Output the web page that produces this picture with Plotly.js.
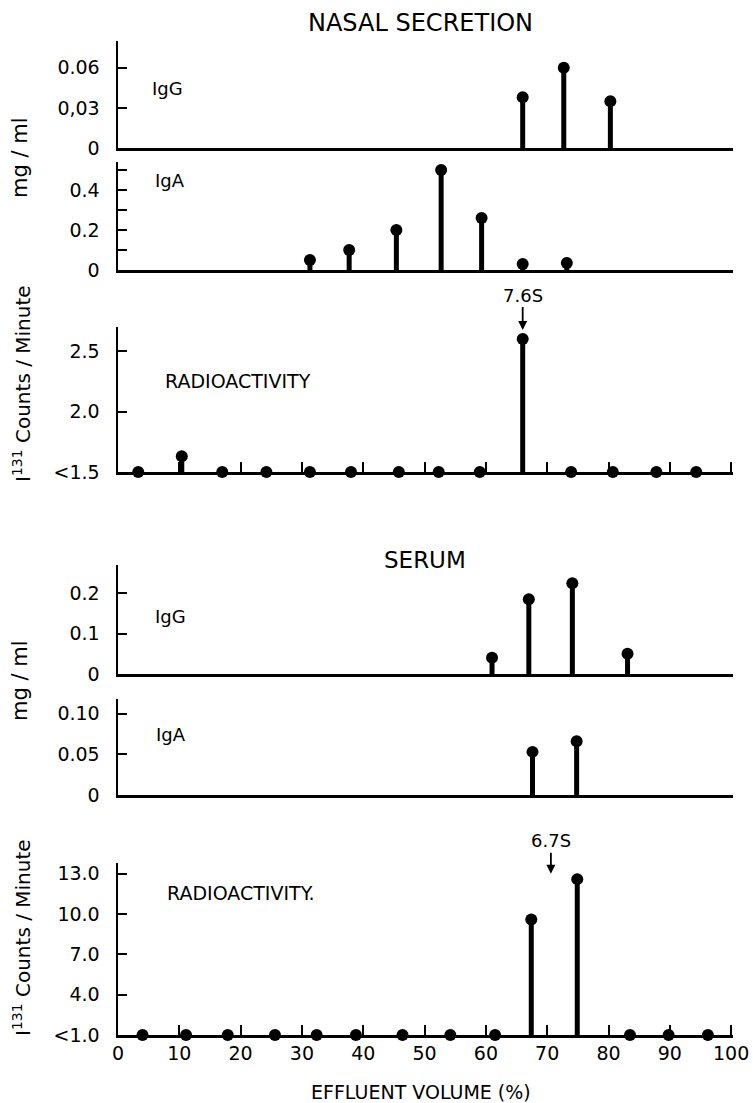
<!DOCTYPE html>
<html>
<head>
<meta charset="utf-8">
<script src="https://cdn.plot.ly/plotly-3.0.1.min.js"></script>
<style>html,body{margin:0;padding:0;background:#fff;}</style>
</head>
<body>
<div id="chart" style="width:753px;height:1103px;"></div>
<script>
// ---------- data ----------
const nasalIgGX = [66.0, 72.7, 80.3];
const nasalIgGY = [0.038, 0.060, 0.035];
const nasalIgAX = [31.3, 37.7, 45.4, 52.7, 59.3, 66.0, 73.2];
const nasalIgAY = [0.05, 0.10, 0.20, 0.50, 0.26, 0.03, 0.035];
const nasalRadX = [3.3, 10.4, 17.0, 24.2, 31.3, 38.0, 45.8, 52.3, 59.0, 66.0, 73.9, 80.7, 87.8, 94.3];
const nasalRadY = [1.5, 1.63, 1.5, 1.5, 1.5, 1.5, 1.5, 1.5, 1.5, 2.6, 1.5, 1.5, 1.5, 1.5];
const serumIgGX = [61.0, 67.0, 74.1, 83.1];
const serumIgGY = [0.04, 0.185, 0.225, 0.05];
const serumIgAX = [67.6, 74.8];
const serumIgAY = [0.053, 0.066];
const serumRadX = [4.0, 11.1, 17.9, 25.6, 32.4, 38.8, 46.4, 54.2, 61.5, 67.4, 74.9, 83.5, 89.8, 96.2];
const serumRadY = [1.0, 1.0, 1.0, 1.0, 1.0, 1.0, 1.0, 1.0, 1.0, 9.6, 12.6, 1.0, 1.0, 1.0];

const xTickVals = [0, 10, 20, 30, 40, 50, 60, 70, 80, 90, 100];
const xTickText = ['0', '10', '20', '30', '40', '50', '60', '70', '80', '90', '100'];

// ---------- layout helpers ----------
const H = 1103, W = 753, L = 118, R = 20;
const FONT = 'DejaVu Sans, Verdana, sans-serif';
function dom(top, bottom) { return [1 - bottom / H, 1 - top / H]; }
function px(p) { return (p - L) / (W - L - R); }
function py(p) { return 1 - p / H; }

function stem(xs, ys, base, xa, ya) {
  return {
    type: 'scatter', mode: 'markers', x: xs, y: ys, xaxis: xa, yaxis: ya,
    cliponaxis: false, hoverinfo: 'skip',
    marker: { color: '#000', size: 12, line: { width: 0 } },
    error_y: {
      type: 'data', symmetric: false,
      array: ys.map(() => 0), arrayminus: ys.map(v => v - base),
      thickness: 5, width: 0, color: '#000'
    }
  };
}

const traces = [
  stem(nasalIgGX, nasalIgGY, 0, 'x', 'y'),
  stem(nasalIgAX, nasalIgAY, 0, 'x2', 'y2'),
  stem(nasalRadX, nasalRadY, 1.5, 'x3', 'y3'),
  stem(serumIgGX, serumIgGY, 0, 'x4', 'y4'),
  stem(serumIgAX, serumIgAY, 0, 'x5', 'y5'),
  stem(serumRadX, serumRadY, 1.0, 'x6', 'y6')
];

function xAx(anchor, withTicks, withLabels) {
  return {
    anchor: anchor, domain: [0, 1], range: [0, 100.3],
    showline: true, linecolor: '#000', linewidth: 2.5,
    showgrid: false, zeroline: false, fixedrange: true,
    tickmode: 'array', tickvals: xTickVals, ticktext: xTickText,
    ticks: withTicks ? 'inside' : '', ticklen: 10, tickwidth: 2, tickcolor: '#000',
    showticklabels: withLabels, ticklabelstandoff: 0,
    tickfont: { family: FONT, size: 19, color: '#000' }
  };
}
function yAx(anchor, d, range, vals, text) {
  return {
    anchor: anchor, domain: d, range: range,
    showline: true, linecolor: '#000', linewidth: 2.5,
    showgrid: false, zeroline: false, fixedrange: true,
    tickmode: 'array', tickvals: vals, ticktext: text,
    ticks: 'inside', ticklen: 9, tickwidth: 2, tickcolor: '#000',
    ticklabelstandoff: 12,
    tickfont: { family: FONT, size: 19, color: '#000' }
  };
}

function label(text, xp, yp, size, extra) {
  return Object.assign({
    text: text, xref: 'paper', yref: 'paper', x: px(xp), y: py(yp),
    xanchor: 'center', yanchor: 'middle', showarrow: false,
    font: { family: FONT, size: size, color: '#000' }
  }, extra || {});
}

const annotations = [
  label('NASAL SECRETION', 420, 23, 24),
  label('IgG', 167, 89, 18),
  label('IgA', 170, 180, 18),
  label('RADIOACTIVITY', 238, 381, 19),
  label('SERUM', 425, 560, 23),
  label('IgG', 170, 616, 18),
  label('IgA', 171, 735, 18),
  label('RADIOACTIVITY.', 240, 893, 19),
  label('EFFLUENT VOLUME (%)', 421, 1092, 19),
  label('mg / ml', 20, 157, 21, { textangle: -90 }),
  label('mg / ml', 20, 680, 21, { textangle: -90 }),
  label('I<sup>131</sup> Counts / Minute', 22, 384, 20, { textangle: -90 }),
  label('I<sup>131</sup> Counts / Minute', 22, 938, 20, { textangle: -90 }),
  {
    text: '7.6S', xref: 'x3', yref: 'y3', x: 66.0, y: 2.6,
    showarrow: true, arrowhead: 2, arrowsize: 1, arrowwidth: 1.8, arrowcolor: '#000',
    ax: 0, ay: -44, standoff: 9,
    font: { family: FONT, size: 18, color: '#000' }
  },
  {
    text: '6.7S', xref: 'x6', yref: 'y6', x: 70.6, y: 13.0,
    showarrow: true, arrowhead: 2, arrowsize: 1, arrowwidth: 1.8, arrowcolor: '#000',
    ax: 0, ay: -33, standoff: 0,
    font: { family: FONT, size: 18, color: '#000' }
  }
];

const yA2 = yAx('x2', dom(162, 270), [0, 0.54], [0, 0.2, 0.4], ['0', '0.2', '0.4']);
yA2.minor = { tickmode: 'linear', tick0: 0, dtick: 0.1, ticks: 'inside', ticklen: 9, tickwidth: 2, tickcolor: '#000', showgrid: false };

const layout = {
  width: W, height: H,
  margin: { l: L, r: R, t: 0, b: 0, pad: 0 },
  paper_bgcolor: '#fff', plot_bgcolor: '#fff',
  showlegend: false,
  xaxis: xAx('y', false, false),
  xaxis2: xAx('y2', false, false),
  xaxis3: xAx('y3', true, false),
  xaxis4: xAx('y4', false, false),
  xaxis5: xAx('y5', false, false),
  xaxis6: xAx('y6', true, true),
  yaxis: yAx('x', dom(41, 148), [0, 0.080], [0, 0.03, 0.06], ['0', '0,03', '0.06']),
  yaxis2: yA2,
  yaxis3: yAx('x3', dom(327, 472), [1.5, 2.70], [1.5, 2.0, 2.5], ['&lt;1.5', '2.0', '2.5']),
  yaxis4: yAx('x4', dom(565, 674), [0, 0.27], [0, 0.1, 0.2], ['0', '0.1', '0.2']),
  yaxis5: yAx('x5', dom(699, 795), [0, 0.118], [0, 0.05, 0.10], ['0', '0.05', '0.10']),
  yaxis6: yAx('x6', dom(863, 1035), [1.0, 13.8], [1, 4, 7, 10, 13], ['&lt;1.0', '4.0', '7.0', '10.0', '13.0']),
  annotations: annotations
};

Plotly.newPlot('chart', traces, layout, { staticPlot: true, displayModeBar: false });
</script>
</body>
</html>
